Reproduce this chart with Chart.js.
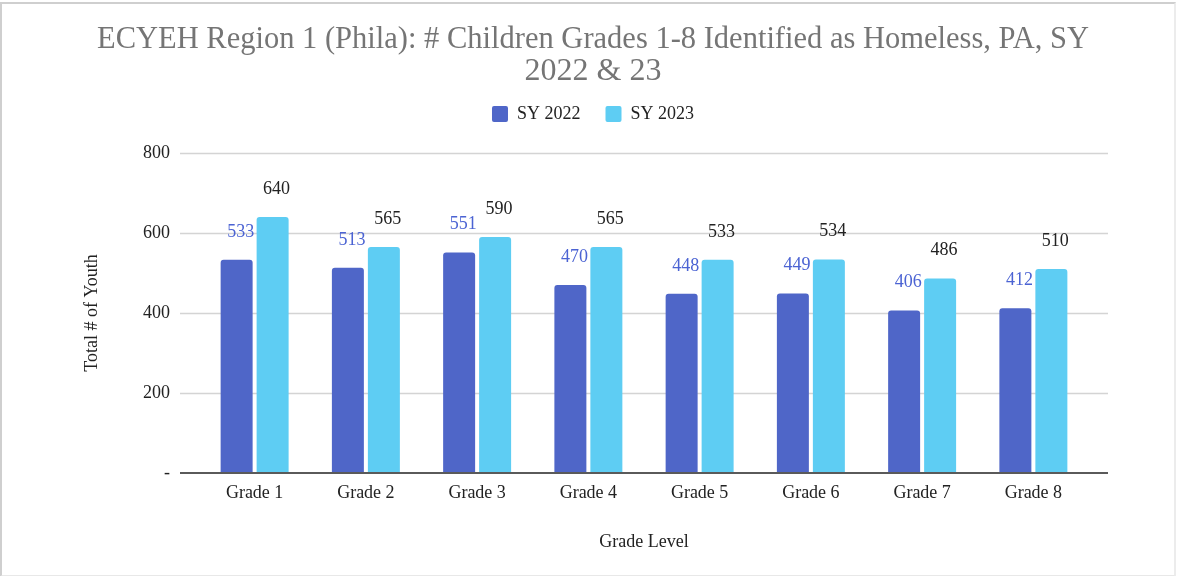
<!DOCTYPE html>
<html>
<head>
<meta charset="utf-8">
<script src="https://cdn.jsdelivr.net/npm/chart.js@4"></script>
<style>
  body { margin: 0; background: #fff; }
  #wrap { position: relative; width: 1177px; height: 576px; }
  #myChart { position: absolute; left: 0; top: 0; }
  .frame {
    position: absolute; left: 0; top: 2px; width: 1172px; height: 571px;
    border: 2px solid #cfcfcf; border-right-color: #ececec; border-bottom-color: #e8e8e8;
    pointer-events: none;
  }
</style>
</head>
<body>
<div id="wrap">
  <canvas id="myChart" width="1177" height="576"></canvas>
  <div class="frame"></div>
</div>
<script>
const grades = ["Grade 1", "Grade 2", "Grade 3", "Grade 4", "Grade 5", "Grade 6", "Grade 7", "Grade 8"];
const sy2022 = [533, 513, 551, 470, 448, 449, 406, 412];
const sy2023 = [640, 565, 590, 565, 533, 534, 486, 510];
const yTicks = [0, 200, 400, 600, 800];

const serif = "'Liberation Serif', 'Times New Roman', serif";

// gridlines run a bit past the bars on both sides, like the original
const gridPlugin = {
  id: "gridLines",
  beforeDatasetsDraw(chart) {
    const ctx = chart.ctx;
    const area = chart.chartArea;
    const y = chart.scales.y;
    ctx.save();
    ctx.strokeStyle = "#d4d4d4";
    ctx.lineWidth = 1.5;
    yTicks.forEach((v) => {
      if (v === 0) return;
      const py = Math.round(y.getPixelForValue(v)) + 0.5;
      ctx.beginPath();
      ctx.moveTo(area.left - 19, py);
      ctx.lineTo(area.right + 19, py);
      ctx.stroke();
    });
    ctx.restore();
  },
  afterDatasetsDraw(chart) {
    const ctx = chart.ctx;
    const area = chart.chartArea;
    const y = chart.scales.y;
    ctx.save();
    ctx.strokeStyle = "#5a5a5a";
    ctx.lineWidth = 2;
    const py = y.getPixelForValue(0);
    ctx.beginPath();
    ctx.moveTo(area.left - 19, py);
    ctx.lineTo(area.right + 19, py);
    ctx.stroke();

    // value labels above each bar
    ctx.font = "18px " + serif;
    ctx.textAlign = "center";
    ctx.textBaseline = "middle";
    chart.data.datasets.forEach((ds, i) => {
      const meta = chart.getDatasetMeta(i);
      ctx.fillStyle = ds.labelColor;
      meta.data.forEach((bar, j) => {
        ctx.fillText(String(ds.data[j]), bar.x + 4, bar.y - 28);
      });
    });
    ctx.restore();
  },
};

const ctx = document.getElementById("myChart");
new Chart(ctx, {
  type: "bar",
  data: {
    labels: grades,
    datasets: [
      {
        label: "SY 2022",
        data: sy2022,
        backgroundColor: "#4f66c8",
        labelColor: "#4b63d3",
        borderRadius: { topLeft: 3, topRight: 3 },
        borderSkipped: "start",
        categoryPercentage: 0.647,
        barPercentage: 0.889,
      },
      {
        label: "SY 2023",
        data: sy2023,
        backgroundColor: "#5ecdf3",
        labelColor: "#222222",
        borderRadius: { topLeft: 3, topRight: 3 },
        borderSkipped: "start",
        categoryPercentage: 0.647,
        barPercentage: 0.889,
      },
    ],
  },
  options: {
    responsive: false,
    animation: false,
    devicePixelRatio: 1,
    layout: { padding: { left: 97, right: 88, top: 0, bottom: 10 } },
    plugins: {
      title: {
        display: true,
        text: ["ECYEH Region 1 (Phila): # Children Grades 1-8 Identified as Homeless, PA, SY", "2022 & 23"],
        color: "#757575",
        font: { family: serif, size: 32, weight: "normal", lineHeight: 1 },
        padding: { top: 24, bottom: -8 },
      },
      legend: {
        display: true,
        labels: {
          color: "#222",
          font: { family: serif, size: 18 },
          boxWidth: 16,
          boxHeight: 16,
          useBorderRadius: true,
          borderRadius: 2,
          padding: 25,
        },
      },
      tooltip: { enabled: false },
    },
    scales: {
      x: {
        grid: { display: false, drawTicks: false },
        border: { display: false },
        ticks: { color: "#222", font: { family: serif, size: 18 }, padding: 9 },
        title: {
          display: true,
          text: "Grade Level",
          color: "#222",
          font: { family: serif, size: 18 },
          padding: { top: 0, bottom: 13 },
        },
        afterFit(scale) {
          scale.height = 93;
        },
      },
      // empty band between the legend and the plot
      xTop: {
        type: "category",
        position: "top",
        grid: { display: false, drawTicks: false },
        border: { display: false },
        ticks: { display: false },
        afterFit(scale) {
          scale.height = 20;
        },
      },
      y: {
        min: 0,
        max: 800,
        grid: { display: false, drawTicks: false },
        border: { display: false },
        ticks: {
          stepSize: 200,
          color: "#222",
          font: { family: serif, size: 18 },
          padding: 29,
          callback: (v) => (v === 0 ? "-" : v),
        },
        title: {
          display: true,
          text: "Total # of Youth",
          color: "#222",
          font: { family: serif, size: 18 },
          padding: { top: -16, bottom: 0 },
        },
        afterFit(scale) {
          scale.width = 102;
        },
      },
    },
  },
  plugins: [gridPlugin],
});
</script>
</body>
</html>
